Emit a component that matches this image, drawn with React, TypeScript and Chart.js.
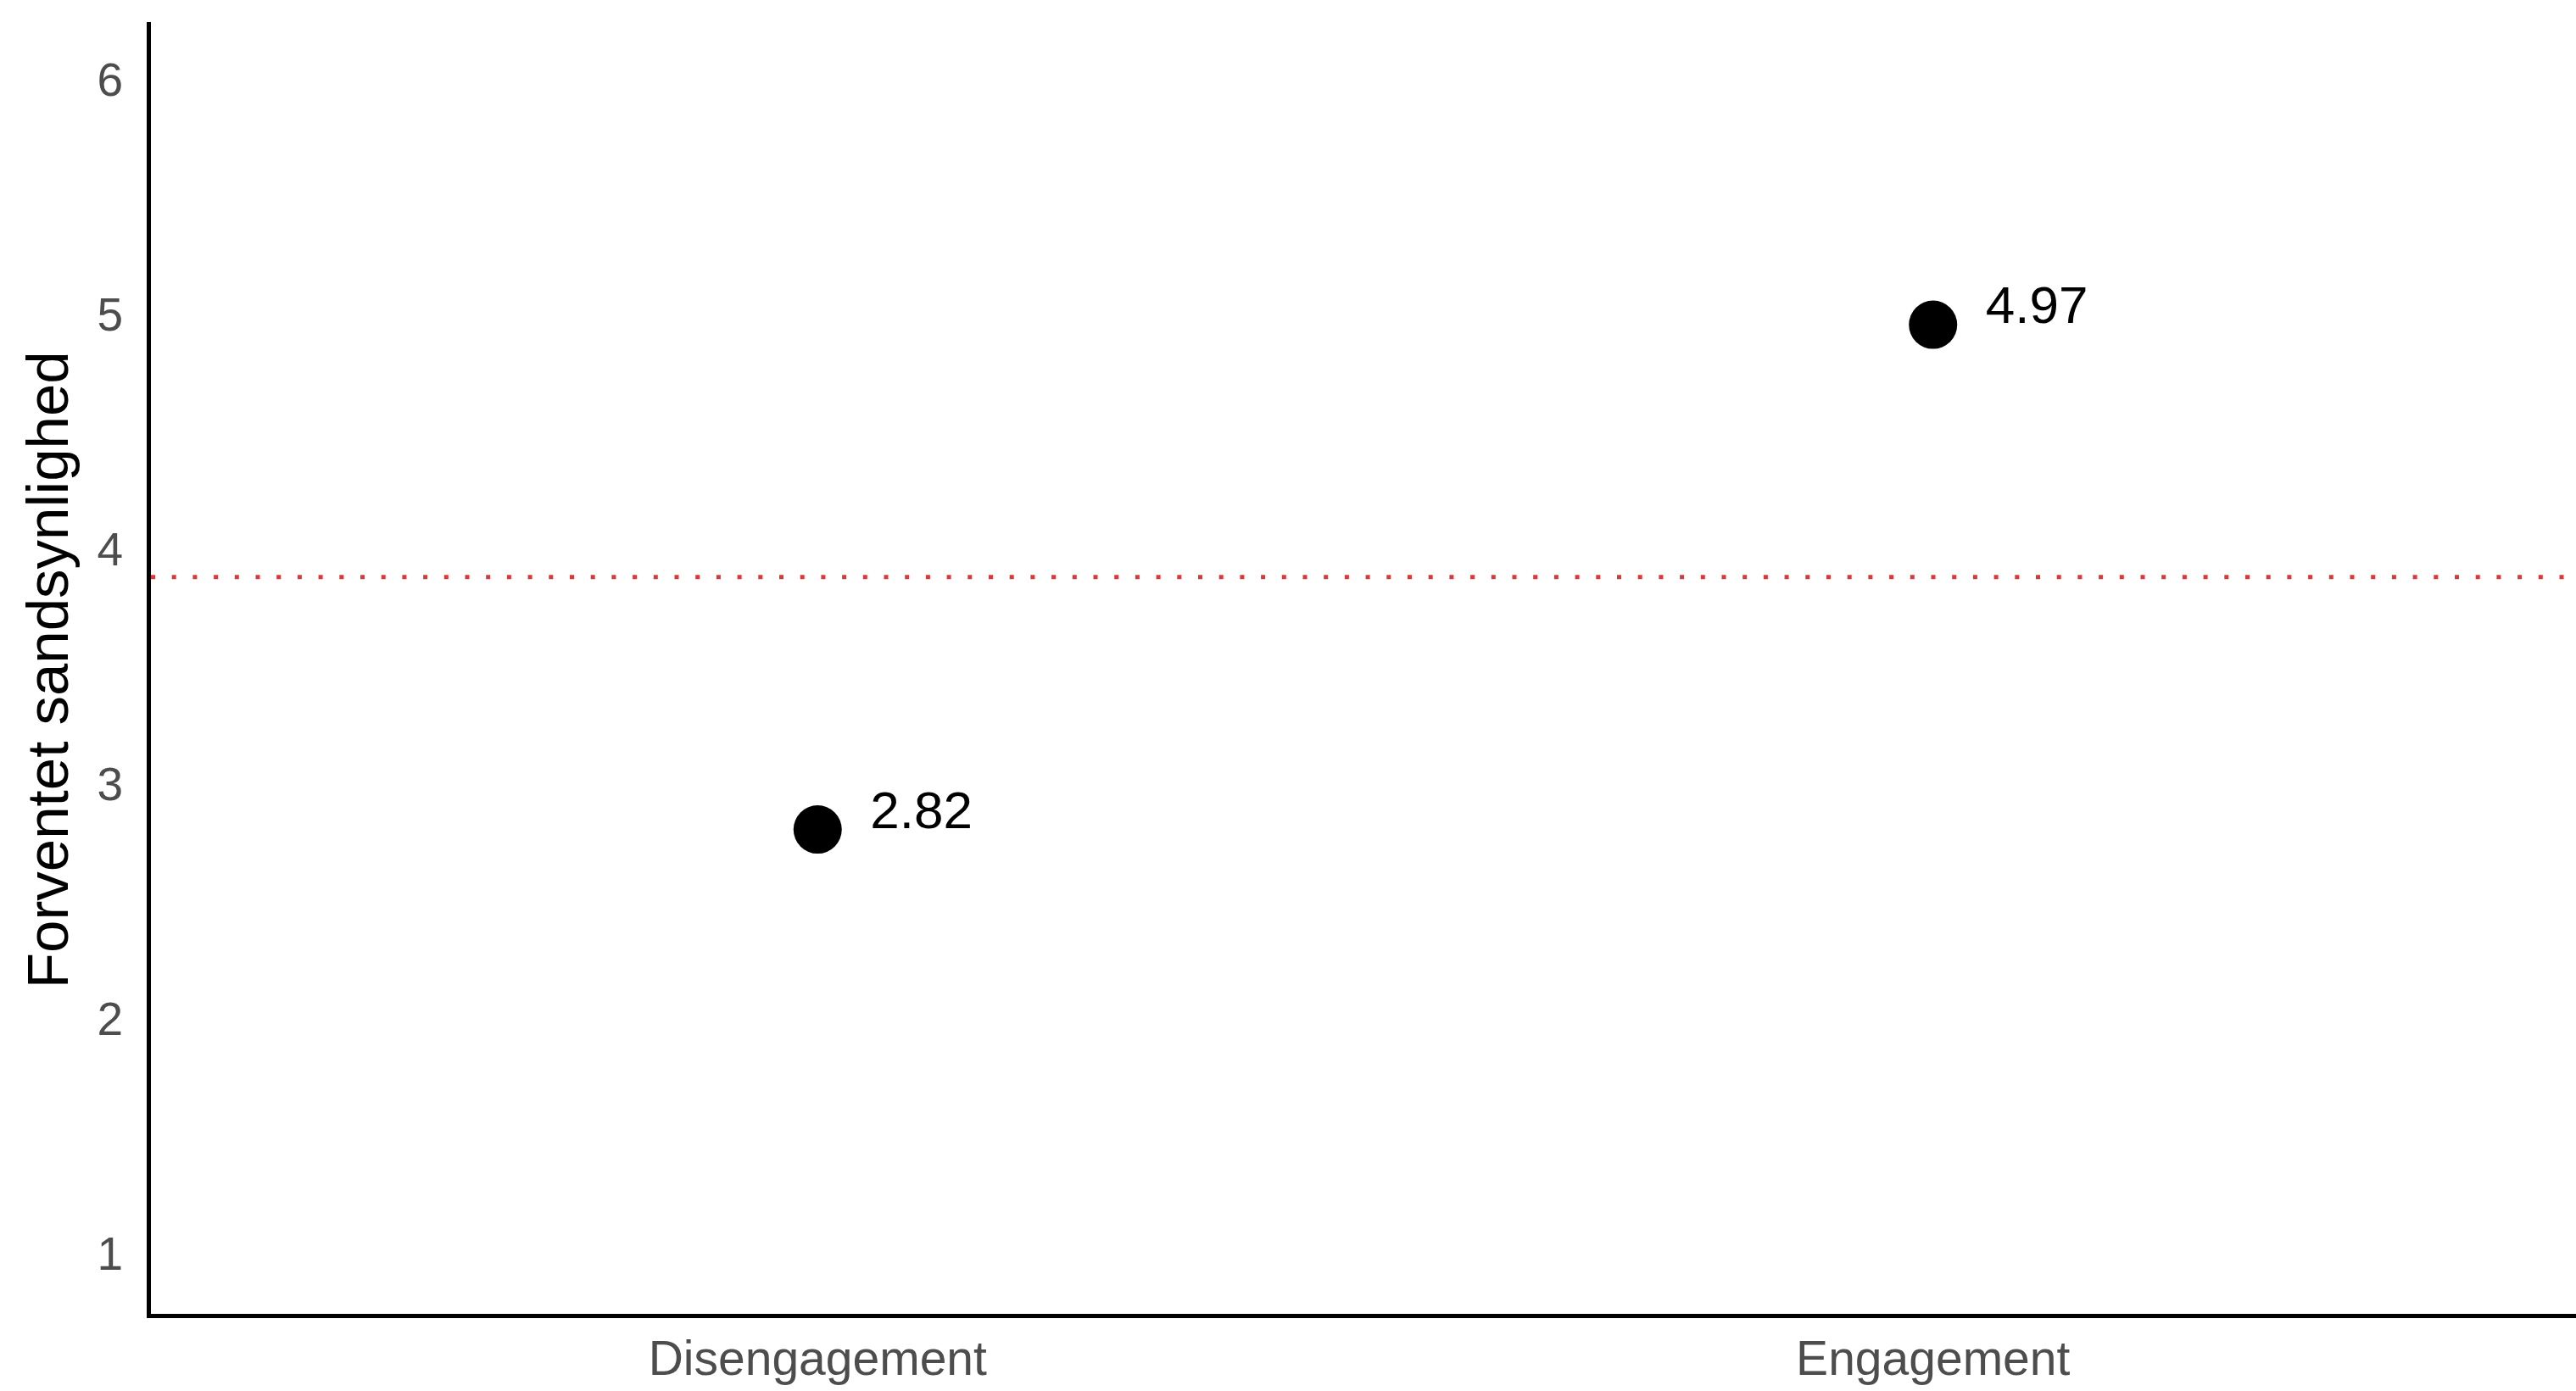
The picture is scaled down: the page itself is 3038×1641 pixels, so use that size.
import React, { useEffect, useRef } from "react";
import { Chart, registerables } from "chart.js";

Chart.register(...registerables);

const CATEGORIES = ["Disengagement", "Engagement"];
const VALUES = [2.82, 4.97];
const VALUE_LABELS = ["2.82", "4.97"];
const Y_TICKS = [1, 2, 3, 4, 5, 6];
const REFERENCE_VALUE = 3.895;
const Y_TITLE = "Forventet sandsynlighed";

const FONT = "'Liberation Sans', Arial, Helvetica, sans-serif";

export default function App() {
  const ref = useRef<HTMLCanvasElement | null>(null);

  useEffect(() => {
    const canvas = ref.current;
    if (!canvas) return;

    const refLinePlugin = {
      id: "refLine",
      beforeDatasetsDraw(chart: any) {
        const { ctx, chartArea, scales } = chart;
        const y = scales.y.getPixelForValue(REFERENCE_VALUE);
        ctx.save();
        ctx.strokeStyle = "rgba(215,35,35,0.9)";
        ctx.lineWidth = 5;
        ctx.setLineDash([5, 19.7]);
        ctx.beginPath();
        ctx.moveTo(chartArea.left + 3, y);
        ctx.lineTo(chartArea.right, y);
        ctx.stroke();
        ctx.restore();
      },
    };

    const labelPlugin = {
      id: "valueLabels",
      afterDatasetsDraw(chart: any) {
        const { ctx } = chart;
        const meta = chart.getDatasetMeta(0);
        ctx.save();
        ctx.fillStyle = "#000";
        ctx.font = `62px ${FONT}`;
        ctx.textAlign = "left";
        ctx.textBaseline = "middle";
        meta.data.forEach((el: any, i: number) => {
          ctx.fillText(VALUE_LABELS[i], el.x + 62, el.y - 19);
        });
        ctx.restore();
      },
    };

    const chart = new Chart(canvas, {
      type: "scatter",
      data: {
        datasets: [
          {
            data: VALUES.map((v, i) => ({ x: i, y: v })),
            backgroundColor: "#000",
            borderWidth: 0,
            pointRadius: 28.5,
            pointHoverRadius: 28.5,
          },
        ],
      },
      options: {
        responsive: false,
        animation: false,
        events: [],
        layout: { padding: { left: 16, top: 22, right: 31, bottom: 0 } },
        plugins: {
          legend: { display: false },
          tooltip: { enabled: false },
        },
        scales: {
          x: {
            type: "linear",
            min: -0.6,
            max: 1.6,
            grid: { display: false, drawTicks: false },
            border: { display: true, color: "#000", width: 5 },
            afterBuildTicks: (scale: any) => {
              scale.ticks = CATEGORIES.map((_, i) => ({ value: i }));
            },
            afterFit: (scale: any) => {
              scale.height = 89;
              scale.paddingLeft = 0;
              scale.paddingRight = 0;
            },
            ticks: {
              padding: 20,
              color: "#4D4D4D",
              font: { family: FONT, size: 57 },
              maxRotation: 0,
              autoSkip: false,
              callback: (v: any) => CATEGORIES[v as number] ?? "",
            },
          },
          y: {
            type: "linear",
            min: 0.75,
            max: 6.25,
            grid: { display: false, drawTicks: false },
            border: { display: true, color: "#000", width: 5 },
            afterBuildTicks: (scale: any) => {
              scale.ticks = Y_TICKS.map((v) => ({ value: v }));
            },
            afterFit: (scale: any) => {
              scale.width = 159;
              scale.paddingTop = 0;
              scale.paddingBottom = 0;
            },
            ticks: {
              padding: 30,
              color: "#4D4D4D",
              font: { family: FONT, size: 55 },
              callback: (v: any) => String(v),
            },
            title: {
              display: true,
              text: Y_TITLE,
              color: "#000",
              font: { family: FONT, size: 69 },
              padding: { top: 4, bottom: 4 },
            },
          },
        },
      },
      plugins: [refLinePlugin, labelPlugin],
    });

    return () => chart.destroy();
  }, []);

  return (
    <div
      style={{
        position: "fixed",
        left: 0,
        top: 0,
        width: 3038,
        height: 1641,
        overflow: "hidden",
        background: "#fff",
      }}
    >
      <canvas ref={ref} width={3100} height={1641} style={{ display: "block" }} />
    </div>
  );
}
